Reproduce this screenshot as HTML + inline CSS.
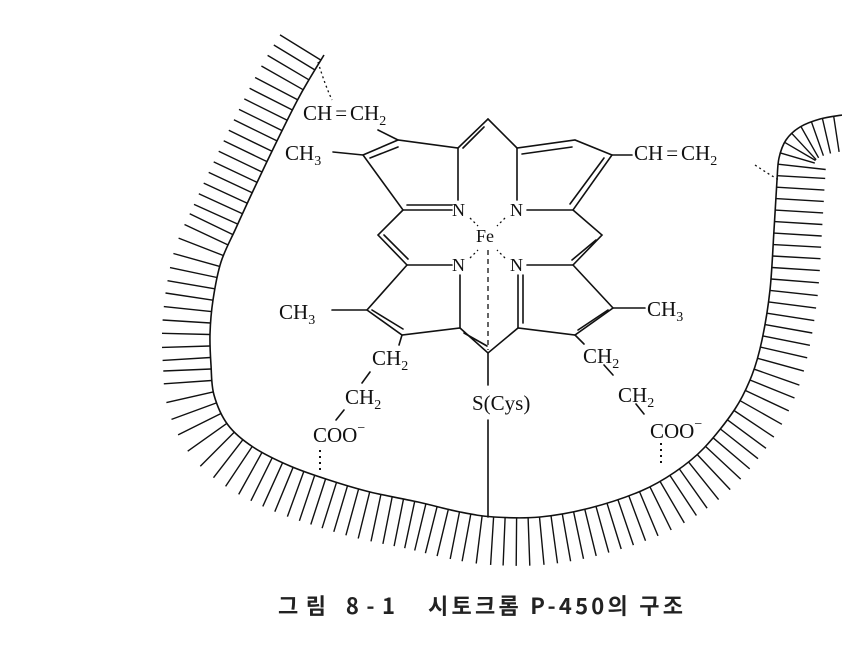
<!DOCTYPE html>
<html><head><meta charset="utf-8"><style>
html,body{margin:0;padding:0;background:#fff;}
svg{display:block}
text{font-family:"Liberation Serif",serif;fill:#111;}
.cap{font-family:"Noto Sans CJK KR","Liberation Sans",sans-serif;font-weight:bold;fill:#222;}
</style></head><body>
<svg id="s" width="842" height="645" viewBox="0 0 842 645" xmlns="http://www.w3.org/2000/svg">
<g stroke="#111" stroke-width="1.6" fill="none" stroke-linecap="round">
<path d="M488,119 L458,148 L398,140 L363,155 L403,210 L452,210"/>
<path d="M458,148 L458,200"/>
<path d="M488,119 L517,148 L575,140 L612,155 L573,210 L527,210"/>
<path d="M517,148 L517,200"/>
<path d="M403,210 L378,235 L407,265 L452,265"/>
<path d="M573,210 L602,235 L573,265 L527,265"/>
<path d="M407,265 L367,310 L402,335 L460,328 L488,353 L518,328 L575,335 L613,308 L573,265"/>
<path d="M460,328 L460,275"/>
<path d="M518,328 L518,275"/>
<path d="M484,127 L463,148"/>
<path d="M522,154 L572,147"/>
<path d="M604,158 L570,204"/>
<path d="M407,205 L452,205"/>
<path d="M370,158 L398,147"/>
<path d="M596,240 L572,260"/>
<path d="M384,235 L408,259"/>
<path d="M372,310 L403,329"/>
<path d="M464,333 L487,346"/>
<path d="M523,275 L523,323"/>
<path d="M578,330 L608,310"/>
<path d="M398,140 L378,130"/>
<path d="M333,152 L363,155"/>
<path d="M612,155 L632,155"/>
<path d="M332,310 L367,310"/>
<path d="M613,308 L645,308"/>
<path d="M402,335 L399,345"/>
<path d="M370,372 L362,383"/>
<path d="M344,410 L336,420"/>
<path d="M575,335 L584,344"/>
<path d="M604,365 L613,375"/>
<path d="M636,404 L644,414"/>
<path d="M488,353 L488,385"/>
<path d="M488,420 L488,517"/>
</g>
<g stroke="#111" stroke-width="1.3" fill="none">
<path d="M488,250 L488,350" stroke-dasharray="5,4"/>
<path d="M470,218 L478,226 M505,218 L497,226 M470,258 L478,250 M505,258 L497,250" stroke-dasharray="2,3"/>
<path d="M318,62 Q325,85 332,100" stroke-dasharray="2,3"/>
<path d="M755,165 Q770,175 779,180" stroke-dasharray="2,3"/>
<path d="M320,450 L320,472" stroke-dasharray="2,4" stroke-width="2"/>
<path d="M661,443 L661,465" stroke-dasharray="2,4" stroke-width="2"/>
</g>
<g id="mem" stroke="#111" stroke-width="1.6" fill="none"></g>
<g font-size="21">
<text x="303" y="120">CH<tspan dx="3">=</tspan><tspan dx="3">CH</tspan><tspan font-size="14" dy="5">2</tspan></text>
<text x="285" y="160">CH<tspan font-size="14" dy="5">3</tspan></text>
<text x="634" y="160">CH<tspan dx="3">=</tspan><tspan dx="3">CH</tspan><tspan font-size="14" dy="5">2</tspan></text>
<text x="279" y="319">CH<tspan font-size="14" dy="5">3</tspan></text>
<text x="647" y="316">CH<tspan font-size="14" dy="5">3</tspan></text>
<text x="372" y="365">CH<tspan font-size="14" dy="5">2</tspan></text>
<text x="345" y="404">CH<tspan font-size="14" dy="5">2</tspan></text>
<text x="313" y="442">COO<tspan font-size="14" dy="-10">−</tspan></text>
<text x="583" y="363">CH<tspan font-size="14" dy="5">2</tspan></text>
<text x="618" y="402">CH<tspan font-size="14" dy="5">2</tspan></text>
<text x="650" y="438">COO<tspan font-size="14" dy="-10">−</tspan></text>
<text x="472" y="410">S(Cys)</text>
</g>
<g font-size="18">
<text x="452" y="216">N</text><text x="510" y="216">N</text>
<text x="452" y="271">N</text><text x="510" y="271">N</text>
<text x="476" y="242">Fe</text>
</g>
<text class="cap" x="278" y="614" font-size="22" textLength="117" lengthAdjust="spacing">그림 8-1</text>
<text class="cap" x="428" y="614" font-size="22" textLength="255" lengthAdjust="spacing">시토크롬 P-450의 구조</text>
</svg>
<script>
var pts=[[324,55],[310,78],[297,101],[275,145],[253,191],[236,228],[221,262],[213,300],[210,334],[211,365],[214,395],[228,425],[253,447],[290,466],[329,480],[370,492],[418,502],[460,512],[494,517],[540,517],[590,508],[641,491],[675,472],[704,448],[735,409],[752,375],[762,340],[770,290],[774,230],[777,180],[779,158],[786,140],[800,127],[820,119],[842,115]];
var d="M"+pts[0];
for(var i=0;i<pts.length-1;i++){var p0=pts[Math.max(i-1,0)],p1=pts[i],p2=pts[i+1],p3=pts[Math.min(i+2,pts.length-1)];
d+=" C"+(p1[0]+(p2[0]-p0[0])/6)+","+(p1[1]+(p2[1]-p0[1])/6)+" "+(p2[0]-(p3[0]-p1[0])/6)+","+(p2[1]-(p3[1]-p1[1])/6)+" "+p2[0]+","+p2[1];}
var g=document.getElementById("mem");var NS="http://www.w3.org/2000/svg";
var path=document.createElementNS(NS,"path");path.setAttribute("d",d);g.appendChild(path);
var L=path.getTotalLength(),out="";
for(var s=6;s<L;s+=11.5){var a=path.getPointAtLength(s),b=path.getPointAtLength(Math.min(s+1,L));var dx=b.x-a.x,dy=b.y-a.y,n=Math.hypot(dx,dy)||1;var nx=-dy/n,ny=dx/n;
var len=48; if(a.y<160&&a.x>760) len=36;
out+="M"+a.x.toFixed(1)+","+a.y.toFixed(1)+" L"+(a.x+nx*len).toFixed(1)+","+(a.y+ny*len).toFixed(1)+" ";}
var t=document.createElementNS(NS,"path");t.setAttribute("d",out);t.setAttribute("stroke-width","1.4");g.appendChild(t);
</script>
</body></html>
